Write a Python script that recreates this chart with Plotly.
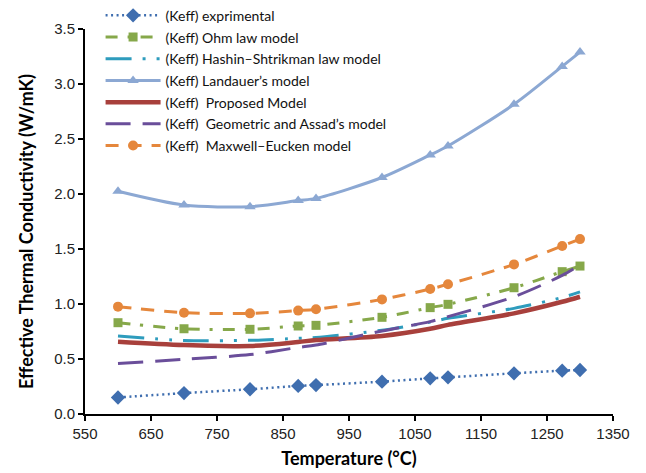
import plotly.graph_objects as go

temperature = [600, 700, 800, 873, 900, 1000, 1073, 1100, 1200, 1273, 1300]

k_experimental = [0.15, 0.19, 0.225, 0.255, 0.263, 0.294, 0.324, 0.333, 0.37, 0.394, 0.40]
k_ohm = [0.83, 0.775, 0.77, 0.80, 0.806, 0.879, 0.967, 0.997, 1.148, 1.294, 1.345]
k_hashin = [0.71, 0.668, 0.67, 0.688, 0.695, 0.762, 0.835, 0.87, 0.96, 1.06, 1.11]
k_landauer = [2.025, 1.90, 1.885, 1.94, 1.96, 2.15, 2.355, 2.436, 2.815, 3.16, 3.29]
k_proposed = [0.657, 0.627, 0.618, 0.655, 0.672, 0.71, 0.775, 0.81, 0.915, 1.02, 1.066]
k_geometric = [0.46, 0.497, 0.54, 0.605, 0.627, 0.755, 0.84, 0.885, 1.066, 1.26, 1.355]
k_maxwell = [0.976, 0.921, 0.915, 0.94, 0.952, 1.042, 1.136, 1.179, 1.36, 1.527, 1.59]

names = [
    "(Keff) exprimental",
    "(Keff) Ohm law model",
    "(Keff) Hashin\u2013Shtrikman law model",
    "(Keff) Landauer\u2019s model",
    "(Keff)\u00a0 Proposed Model",
    "(Keff)\u00a0 Geometric and Assad\u2019s model",
    "(Keff)\u00a0 Maxwell\u2013Eucken model",
]

x_ticks = [550, 650, 750, 850, 950, 1050, 1150, 1250, 1350]
y_ticks = [0.0, 0.5, 1.0, 1.5, 2.0, 2.5, 3.0, 3.5]

x_title = "Temperature (°C)"
y_title = "Effective Thermal Conductivity (W/mK)"

series = [
    (k_experimental, "#3F6EAF", 2.5, "2px,3.5px", "diamond", 11),
    (k_ohm, "#86A84A", 3, "12px,10px,3px,10px", "square", 9),
    (k_hashin, "#2E9CBD", 3, "26px,11px,3px,11px,3px,11px", None, 0),
    (k_landauer, "#8CA8D3", 3, "solid", "triangle-up", 10),
    (k_proposed, "#A8403C", 4.5, "solid", None, 0),
    (k_geometric, "#6A4E9A", 3, "25px,12px", None, 0),
    (k_maxwell, "#E5873C", 3, "13px,10px", "circle", 10),
]

fig = go.Figure()
for i, ((vals, color, w, dash, sym, size), name) in enumerate(zip(series, names)):
    mode = "lines+markers" if sym else "lines"
    tr = dict(
        x=temperature, y=vals, name=name, mode=mode,
        legendgroup=str(i),
        line=dict(color=color, width=w, dash=dash, shape="spline", smoothing=0.8),
    )
    if sym:
        tr["marker"] = dict(symbol=sym, size=size, color=color)
    fig.add_trace(go.Scatter(**tr))

axis_common = dict(
    showline=True, linecolor="black", linewidth=2,
    ticks="outside", ticklen=5, tickwidth=1.5, tickcolor="black",
    showgrid=False, zeroline=False,
    tickfont=dict(family="Liberation Sans, Arial", size=15, color="#222"),
)

title_font = dict(family="Lato, Open Sans", size=18, color="black")

fig.update_layout(
    width=646, height=473,
    margin=dict(l=85, r=33, t=29, b=59, autoexpand=False),
    paper_bgcolor="white", plot_bgcolor="white",
    xaxis=dict(
        range=[550, 1350], tickvals=x_ticks, ticktext=[str(v) for v in x_ticks],
        title=dict(text=f"<b>{x_title}</b>", standoff=11, font=title_font),
        **axis_common,
    ),
    yaxis=dict(
        range=[0, 3.5], tickvals=y_ticks, ticktext=[f"{v:.1f}" for v in y_ticks],
        **axis_common,
    ),
    annotations=[dict(
        text=f"<b>{y_title}</b>", xref="paper", yref="paper",
        x=0, y=0.473, xshift=-59, xanchor="center", yanchor="middle",
        textangle=-90, showarrow=False, font=title_font,
    )],
    legend=dict(
        x=0.0295, y=1.076, xanchor="left", yanchor="top",
        bgcolor="rgba(0,0,0,0)",
        font=dict(family="Lato, Open Sans", size=14, color="#111"),
        tracegroupgap=0.5, itemwidth=55,
    ),
    showlegend=True,
)

fig.write_html("out.html")
